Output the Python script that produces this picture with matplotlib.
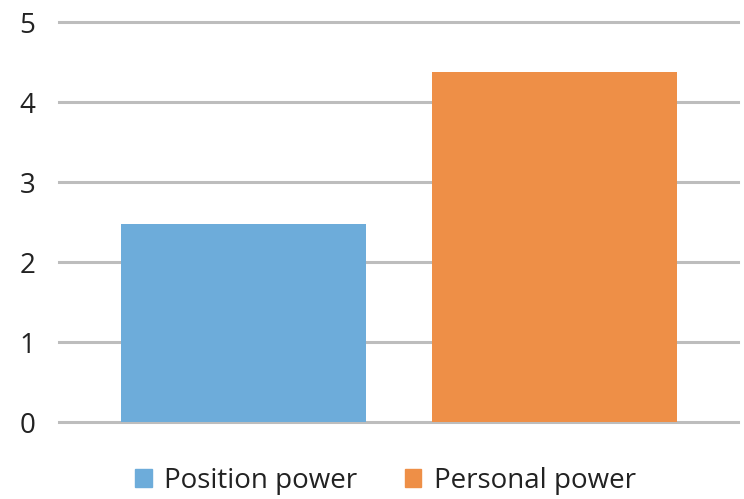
import matplotlib.pyplot as plt
from matplotlib.patches import Patch

# series values (one category, two series)
series = ['Position power', 'Personal power']
values = [2.47, 4.37]
colors = ['#6DACDA', '#EE8F47']
yticks = [0, 1, 2, 3, 4, 5]

plt.rcParams['font.family'] = ['Open Sans', 'DejaVu Sans']

fig = plt.figure(figsize=(7.44, 4.99), dpi=100)
ax = fig.add_axes([0.0793, 0.1543, 0.9127, 0.8016])

xpos = list(range(len(series)))
ax.bar(xpos, values, width=0.788, color=colors, zorder=3)

ax.set_xlim(-0.595, 1.59)
ax.set_ylim(0, 5)
ax.set_yticks(yticks)
ax.set_yticklabels([str(t) for t in yticks], fontsize=20, color='#222222')
ax.set_xticks([])
ax.grid(axis='y', color='#bdbdbd', linewidth=2.2, zorder=0)
ax.tick_params(axis='y', length=0, pad=17)
for s in ax.spines.values():
    s.set_visible(False)
for line in ax.get_ygridlines():
    line.set_clip_on(False)

handles = [Patch(color=c, label=s) for c, s in zip(colors, series)]
fig.legend(handles=handles, loc='center', bbox_to_anchor=(0.518, 0.036),
           ncol=2, frameon=False, fontsize=20, handlelength=0.6,
           handleheight=0.6, handletextpad=0.45, columnspacing=1.7,
           labelcolor='#222222')

fig.savefig('out.png', dpi=100)
